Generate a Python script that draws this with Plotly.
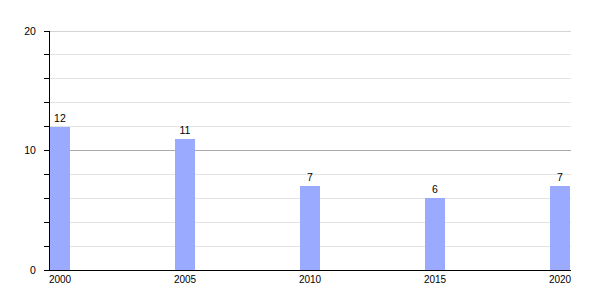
import plotly.graph_objects as go

years = [2000, 2005, 2010, 2015, 2020]
values = [12, 11, 7, 6, 7]
tick_labels = ["2000", "2005", "2010", "2015", "2020"]
y_max = 20

fig = go.Figure(go.Bar(
    x=years, y=values, width=0.8,
    marker=dict(color="#99aaff", line=dict(width=0)),
    text=[str(v) for v in values], textposition="outside",
    textfont=dict(size=10.5, color="#000000"), cliponaxis=False,
))

fig.update_layout(
    width=600, height=300,
    margin=dict(l=50, r=29, t=31, b=30),
    paper_bgcolor="white", plot_bgcolor="white",
    font=dict(family="Liberation Sans, Arial, sans-serif", size=10, color="#000000"),
    showlegend=False,
    bargap=0,
)
# top major gridline (coincides with plot edge)
fig.add_shape(type="line", xref="paper", yref="y", x0=0, x1=1, y0=y_max, y1=y_max,
              line=dict(color="#aaaaaa", width=1), layer="below")
fig.update_xaxes(
    range=[1999.6, 2020.44], tickvals=years, ticktext=tick_labels,
    showgrid=False, zeroline=False, showline=True, linecolor="#000000", linewidth=1,
    ticks="", ticklabelstandoff=0, tickfont=dict(size=10, color="#000000"),
)
fig.update_yaxes(
    range=[0, y_max], tickvals=[0, 10, 20], showgrid=True, gridcolor="#aaaaaa", gridwidth=1,
    zeroline=False, showline=True, linecolor="#000000", linewidth=1,
    ticks="outside", ticklen=5, tickcolor="#000000", tickfont=dict(size=10.5, color="#000000"),
    ticklabelstandoff=6,
    minor=dict(dtick=2, showgrid=True, gridcolor="#e3e3e3", ticks="outside", ticklen=5, tickcolor="#000000"),
)

fig.write_html("out.html")
